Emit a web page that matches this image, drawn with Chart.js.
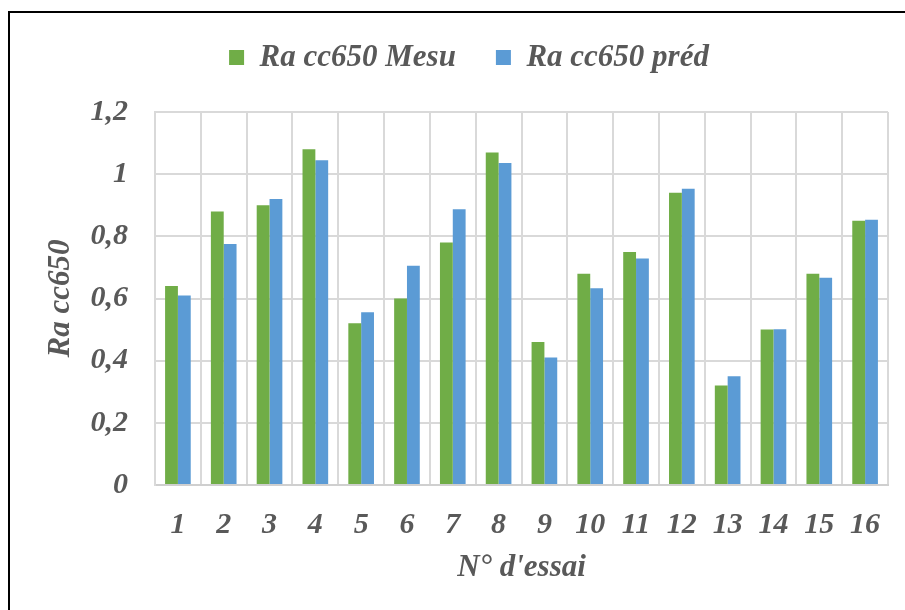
<!DOCTYPE html>
<html>
<head>
<meta charset="utf-8">
<script src="https://cdn.jsdelivr.net/npm/chart.js@4.4.1/dist/chart.umd.min.js"></script>
<style>
  html, body { margin: 0; padding: 0; background: #ffffff; }
  #wrap { position: relative; width: 905px; height: 610px; }
</style>
</head>
<body>
<div id="wrap"><canvas id="c" width="905" height="610"></canvas></div>
<script>
const categories = ['1','2','3','4','5','6','7','8','9','10','11','12','13','14','15','16'];
const raMesu = [0.64, 0.88, 0.90, 1.08, 0.52, 0.60, 0.78, 1.07, 0.46, 0.68, 0.75, 0.94, 0.32, 0.50, 0.68, 0.85];
const raPred = [0.61, 0.775, 0.92, 1.045, 0.556, 0.705, 0.887, 1.036, 0.41, 0.633, 0.729, 0.953, 0.35, 0.501, 0.667, 0.853];
const yTickLabels = ['0', '0,2', '0,4', '0,6', '0,8', '1', '1,2'];
const seriesNames = ['Ra cc650 Mesu', 'Ra cc650 pr\u00e9d'];

const FAMILY = "'Liberation Serif', 'Times New Roman', Times, serif";
const TEXT = '#595959';
const GRID = '#d9d9d9';

const frame = {
  id: 'frame',
  beforeInit(chart) {
    const lg = chart.legend;
    if (lg) {
      const fit = lg.fit;
      lg.fit = function () { fit.call(this); this.height += 29; };
    }
  },
  afterDraw(chart) {
    const ctx = chart.ctx;
    ctx.save();
    ctx.strokeStyle = '#000000';
    ctx.lineWidth = 2;
    ctx.beginPath();
    ctx.moveTo(9, 610);
    ctx.lineTo(9, 12);
    ctx.lineTo(905, 12);
    ctx.stroke();
    ctx.restore();
  }
};

new Chart(document.getElementById('c'), {
  type: 'bar',
  data: {
    labels: categories,
    datasets: [
      { label: seriesNames[0], data: raMesu, backgroundColor: '#70AD47', borderWidth: 0,
        categoryPercentage: 0.56, barPercentage: 1.0 },
      { label: seriesNames[1], data: raPred, backgroundColor: '#5B9BD5', borderWidth: 0,
        categoryPercentage: 0.56, barPercentage: 1.0 }
    ]
  },
  options: {
    responsive: false,
    animation: false,
    layout: { padding: { top: 2, left: 50, right: 17, bottom: 0 } },
    plugins: {
      legend: {
        position: 'top',
        labels: {
          boxWidth: 15, boxHeight: 15, padding: 40, color: TEXT,
          font: { family: FAMILY, size: 31, weight: 'bold', style: 'italic' }
        }
      },
      tooltip: { enabled: false }
    },
    scales: {
      x: {
        grid: { display: true, offset: true, color: GRID, lineWidth: 2, drawTicks: false },
        border: { display: true, color: '#cfcfcf', width: 2 },
        ticks: { color: TEXT, padding: 22, maxRotation: 0, autoSkip: false,
          font: { family: FAMILY, size: 30, weight: 'bold', style: 'italic' } },
        title: { display: true, text: "N\u00b0 d'essai", color: TEXT, padding: { top: 0, bottom: 23 },
          font: { family: FAMILY, size: 31, weight: 'bold', style: 'italic' } },
        afterFit(s) { s.height = 125; }
      },
      y: {
        min: 0, max: 1.2,
        grid: { color: GRID, lineWidth: 2, drawTicks: false },
        border: { display: true, color: GRID, width: 2 },
        ticks: { stepSize: 0.2, color: TEXT, padding: 27,
          callback: (v, i) => yTickLabels[i],
          font: { family: FAMILY, size: 30, weight: 'bold', style: 'italic' } },
        title: { display: true, text: 'Ra cc650', color: TEXT, padding: { top: -8, bottom: 0 },
          font: { family: FAMILY, size: 31, weight: 'bold', style: 'italic' } },
        afterFit(s) { s.width = 105; }
      }
    }
  },
  plugins: [frame]
});
</script>
</body>
</html>
